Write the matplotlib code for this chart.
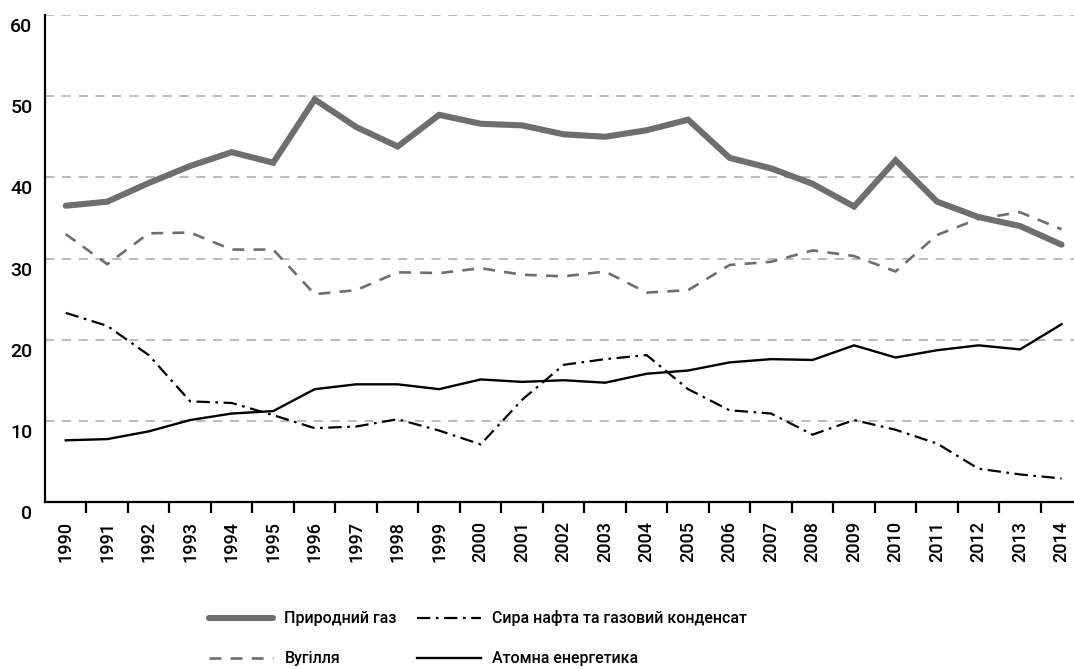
import matplotlib
matplotlib.use("Agg")
import matplotlib.pyplot as plt
from matplotlib.transforms import ScaledTranslation

plt.rcParams['font.family'] = ['Roboto', 'DejaVu Sans']

years = list(range(1990, 2015))

# частка у первинному енергоспоживанні, %
gas = [36.5, 37.0, 39.3, 41.4, 43.1, 41.8, 49.6, 46.2, 43.8, 47.7, 46.6, 46.4,
       45.3, 45.0, 45.8, 47.1, 42.4, 41.1, 39.2, 36.4, 42.1, 37.0, 35.1, 34.0, 31.7]
coal = [33.0, 29.3, 33.1, 33.2, 31.1, 31.1, 25.6, 26.1, 28.3, 28.2, 28.8, 28.0,
        27.8, 28.4, 25.8, 26.1, 29.2, 29.6, 31.0, 30.3, 28.4, 32.9, 34.9, 35.7, 33.6]
oil = [23.3, 21.7, 18.1, 12.4, 12.2, 10.7, 9.1, 9.3, 10.2, 8.8, 7.1, 12.6,
       16.9, 17.6, 18.1, 13.9, 11.3, 10.9, 8.3, 10.1, 8.9, 7.2, 4.1, 3.4, 2.9]
nuclear = [7.6, 7.75, 8.7, 10.1, 10.9, 11.2, 13.9, 14.5, 14.5, 13.9, 15.1, 14.8,
           15.0, 14.7, 15.8, 16.2, 17.2, 17.6, 17.5, 19.3, 17.8, 18.7, 19.3, 18.8, 21.9]

labels = ["Природний газ", "Вугілля",
          "Сира нафта та газовий конденсат", "Атомна енергетика"]

fig = plt.figure(figsize=(10.74, 6.69), dpi=100)
ax = fig.add_axes([45 / 1074, 167 / 669, 1 - 45 / 1074, 487 / 669])

x = list(range(len(years)))
l_gas, = ax.plot(x, gas, color='#6e6e6e', lw=4.4, solid_capstyle='round',
                 solid_joinstyle='miter', zorder=5)
l_coal, = ax.plot(x, coal, color='#6e6e6e', lw=1.9, linestyle=(0, (4.5, 3.5)), zorder=4)
l_oil, = ax.plot(x, oil, color='black', lw=1.6,
                 linestyle=(0, (6, 2.5, 1.2, 2.5)), zorder=4)
l_nuc, = ax.plot(x, nuclear, color='black', lw=1.7, zorder=4)

ax.set_xlim(-0.5, 24.3)
ax.set_ylim(0, 60)

ax.set_yticks(range(0, 61, 10))
ax.yaxis.grid(True, linestyle=(0, (6, 5)), color='#a8a8a8', lw=1.1)
ax.set_axisbelow(True)
ax.tick_params(axis='y', length=0, pad=9, labelsize=14)
for lab in ax.get_yticklabels():
    lab.set_fontweight('medium')
    lab.set_transform(lab.get_transform() + ScaledTranslation(0, -0.10, fig.dpi_scale_trans))

ax.set_xticks(x)
ax.set_xticklabels([str(y) for y in years], rotation=90, fontsize=13, fontweight='medium')
ax.set_xticks([i + 0.5 for i in range(24)], minor=True)
ax.tick_params(axis='x', which='major', length=0, pad=14)
ax.tick_params(axis='x', which='minor', length=8, width=1.6, color='black')

for s in ['top', 'right']:
    ax.spines[s].set_visible(False)
for s in ['left', 'bottom']:
    ax.spines[s].set_linewidth(1.6)
    ax.spines[s].set_color('black')

fig.legend([l_gas, l_coal, l_oil, l_nuc], labels, ncol=2, frameon=False,
           loc='upper left', bbox_to_anchor=(195 / 1074, 1 - 596 / 669),
           prop={'size': 11.5, 'weight': 'medium'}, handlelength=4.0, handletextpad=0.7,
           columnspacing=1.25, labelspacing=1.55)

fig.savefig('out.png', dpi=100)
